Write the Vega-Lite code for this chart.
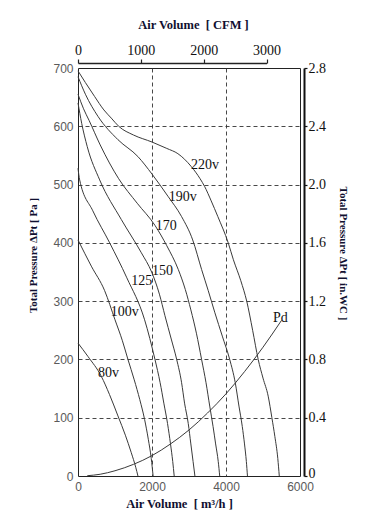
{
  "$schema": "https://vega.github.io/schema/vega-lite/v6.json",
  "width": 222,
  "height": 408,
  "autosize": {"type": "none"},
  "padding": {"left": 78, "top": 68, "right": 77, "bottom": 46},
  "background": "white",
  "config": {
    "view": {"stroke": "#222222", "strokeWidth": 1},
    "axis": {"gridDash": [4, 3], "gridColor": "#333333", "gridWidth": 0.9}
  },
  "datasets": {
    "curves": [
      {"c":"80v","q":0,"p":228},{"c":"80v","q":270,"p":205},{"c":"80v","q":630,"p":171},{"c":"80v","q":850,"p":140},{"c":"80v","q":1080,"p":103},{"c":"80v","q":1280,"p":70},{"c":"80v","q":1440,"p":40},{"c":"80v","q":1560,"p":15},{"c":"80v","q":1620,"p":0},
      {"c":"100v","q":0,"p":405},{"c":"100v","q":360,"p":360},{"c":"100v","q":720,"p":318},{"c":"100v","q":1000,"p":268},{"c":"100v","q":1200,"p":232},{"c":"100v","q":1350,"p":200},{"c":"100v","q":1520,"p":165},{"c":"100v","q":1670,"p":131},{"c":"100v","q":1800,"p":97},{"c":"100v","q":1900,"p":63},{"c":"100v","q":1980,"p":30},{"c":"100v","q":2030,"p":0},
      {"c":"125","q":0,"p":528},{"c":"125","q":45,"p":508},{"c":"125","q":400,"p":455},{"c":"125","q":856,"p":400},{"c":"125","q":1320,"p":340},{"c":"125","q":1800,"p":268},{"c":"125","q":2080,"p":200},{"c":"125","q":2220,"p":160},{"c":"125","q":2320,"p":125},{"c":"125","q":2420,"p":90},{"c":"125","q":2500,"p":55},{"c":"125","q":2560,"p":25},{"c":"125","q":2600,"p":0},
      {"c":"150","q":0,"p":640},{"c":"150","q":100,"p":605},{"c":"150","q":250,"p":565},{"c":"150","q":586,"p":508},{"c":"150","q":1171,"p":440},{"c":"150","q":1712,"p":383},{"c":"150","q":1990,"p":350},{"c":"150","q":2200,"p":312},{"c":"150","q":2350,"p":275},{"c":"150","q":2520,"p":235},{"c":"150","q":2667,"p":200},{"c":"150","q":2800,"p":160},{"c":"150","q":2880,"p":125},{"c":"150","q":2980,"p":90},{"c":"150","q":3050,"p":55},{"c":"150","q":3110,"p":25},{"c":"150","q":3160,"p":0},
      {"c":"170","q":0,"p":655},{"c":"170","q":150,"p":630},{"c":"170","q":300,"p":610},{"c":"170","q":600,"p":568},{"c":"170","q":1100,"p":510},{"c":"170","q":1600,"p":468},{"c":"170","q":2080,"p":430},{"c":"170","q":2400,"p":395},{"c":"170","q":2712,"p":354},{"c":"170","q":2900,"p":320},{"c":"170","q":3050,"p":285},{"c":"170","q":3200,"p":245},{"c":"170","q":3340,"p":200},{"c":"170","q":3460,"p":160},{"c":"170","q":3560,"p":120},{"c":"170","q":3650,"p":85},{"c":"170","q":3720,"p":55},{"c":"170","q":3790,"p":25},{"c":"170","q":3830,"p":0},
      {"c":"190v","q":0,"p":685},{"c":"190v","q":200,"p":655},{"c":"190v","q":540,"p":617},{"c":"190v","q":1080,"p":577},{"c":"190v","q":1620,"p":548},{"c":"190v","q":2000,"p":518},{"c":"190v","q":2430,"p":480},{"c":"190v","q":2800,"p":445},{"c":"190v","q":3100,"p":405},{"c":"190v","q":3342,"p":354},{"c":"190v","q":3520,"p":318},{"c":"190v","q":3700,"p":280},{"c":"190v","q":3900,"p":240},{"c":"190v","q":4100,"p":200},{"c":"190v","q":4250,"p":160},{"c":"190v","q":4350,"p":120},{"c":"190v","q":4440,"p":85},{"c":"190v","q":4500,"p":55},{"c":"190v","q":4550,"p":25},{"c":"190v","q":4580,"p":0},
      {"c":"220v","q":0,"p":695},{"c":"220v","q":200,"p":675},{"c":"220v","q":450,"p":651},{"c":"220v","q":700,"p":628},{"c":"220v","q":900,"p":614},{"c":"220v","q":1100,"p":600},{"c":"220v","q":1500,"p":585},{"c":"220v","q":2000,"p":573},{"c":"220v","q":2400,"p":562},{"c":"220v","q":2700,"p":553},{"c":"220v","q":3060,"p":531},{"c":"220v","q":3300,"p":510},{"c":"220v","q":3420,"p":497},{"c":"220v","q":3600,"p":472},{"c":"220v","q":3780,"p":445},{"c":"220v","q":4060,"p":400},{"c":"220v","q":4200,"p":371},{"c":"220v","q":4400,"p":335},{"c":"220v","q":4560,"p":300},{"c":"220v","q":4720,"p":250},{"c":"220v","q":4870,"p":200},{"c":"220v","q":5000,"p":168},{"c":"220v","q":5140,"p":137},{"c":"220v","q":5240,"p":100},{"c":"220v","q":5320,"p":68},{"c":"220v","q":5400,"p":30},{"c":"220v","q":5440,"p":0},
      {"c":"Pd","q":250,"p":0.5},{"c":"Pd","q":600,"p":3},{"c":"Pd","q":1000,"p":9},{"c":"Pd","q":1500,"p":20},{"c":"Pd","q":2000,"p":35},{"c":"Pd","q":2500,"p":55},{"c":"Pd","q":3000,"p":79},{"c":"Pd","q":3500,"p":108},{"c":"Pd","q":4000,"p":141},{"c":"Pd","q":4500,"p":179},{"c":"Pd","q":5000,"p":221},{"c":"Pd","q":5500,"p":267}
    ],
    "labels": [
      {"t":"220v","q":3054,"p":534},{"t":"190v","q":2451,"p":478},{"t":"170","q":2100,"p":429},{"t":"150","q":2000,"p":352},{"t":"125","q":1441,"p":334},{"t":"100v","q":883,"p":281},{"t":"80v","q":541,"p":177},{"t":"Pd","q":5270,"p":271}
    ],
    "cfm": [{"cfm": 0}, {"cfm": 3000}],
    "inwc": [{"inwc": 0}, {"inwc": 2.8}]
  },
  "layer": [
    {
      "layer": [
        {
          "data": {"name": "curves"},
          "mark": {"type": "line", "color": "#3a3a3a", "strokeWidth": 1, "interpolate": "monotone"},
          "encoding": {
            "x": {"field": "q", "type": "quantitative",
              "scale": {"domain": [0, 6000], "nice": false, "zero": false},
              "axis": {"orient": "bottom", "values": [0, 2000, 4000, 6000], "format": "d", "domain": false, "ticks": false,
                "labelFont": "Liberation Sans", "labelFontSize": 12, "labelColor": "#5a5a5a", "labelPadding": 5,
                "labelFlush": false,
                "grid": true, "gridOpacity": {"condition": {"test": "datum.value == 0 || datum.value == 6000", "value": 0}, "value": 1},
                "title": "Air Volume\u00a0 [ m³/h ]", "titleFont": "Liberation Serif", "titleFontSize": 12.5, "titleFontWeight": "bold",
                "titleColor": "#101030", "titlePadding": 5, "titleX": 101}},
            "y": {"field": "p", "type": "quantitative",
              "scale": {"domain": [0, 700], "nice": false, "zero": false},
              "axis": {"orient": "left", "values": [0, 100, 200, 300, 400, 500, 600, 700], "format": "d", "domain": false, "ticks": false,
                "labelFont": "Liberation Sans", "labelFontSize": 12, "labelColor": "#5a5a5a", "labelPadding": 5,
                "labelFlush": false,
                "grid": true, "gridOpacity": {"condition": {"test": "datum.value == 0 || datum.value == 700", "value": 0}, "value": 1},
                "title": "Total Pressure ΔPt [ Pa ]", "titleFont": "Liberation Serif", "titleFontSize": 11, "titleFontWeight": "bold",
                "titleColor": "#101030", "titlePadding": 14, "titleY": 187}},
            "detail": {"field": "c"}
          }
        },
        {
          "data": {"name": "labels"},
          "mark": {"type": "text", "align": "left", "baseline": "middle", "font": "Liberation Serif", "fontSize": 14, "color": "#111111"},
          "encoding": {
            "x": {"field": "q", "type": "quantitative"},
            "y": {"field": "p", "type": "quantitative"},
            "text": {"field": "t"}
          }
        }
      ]
    },
    {
      "data": {"name": "cfm"},
      "mark": {"type": "point", "opacity": 0},
      "encoding": {
        "x": {"field": "cfm", "type": "quantitative",
          "scale": {"domain": [0, 3000], "range": [0, 188.6], "nice": false, "zero": false},
          "axis": {"orient": "top", "offset": 5, "values": [0, 1000, 2000, 3000], "format": "d", "domain": true, "domainColor": "#222222", "domainWidth": 1.5,
            "ticks": true, "tickSize": 4, "tickColor": "#222222", "tickWidth": 1.2, "grid": false,
            "labelFont": "Liberation Serif", "labelFontSize": 14, "labelColor": "#111111", "labelPadding": 2, "labelFlush": false,
            "title": "Air Volume\u00a0 [ CFM ]", "titleFont": "Liberation Serif", "titleFontSize": 12.5, "titleFontWeight": "bold",
            "titleColor": "#101030", "titlePadding": 12, "titleX": 115}}
      }
    },
    {
      "data": {"name": "inwc"},
      "mark": {"type": "point", "opacity": 0},
      "encoding": {
        "y": {"field": "inwc", "type": "quantitative",
          "scale": {"domain": [0, 2.8], "nice": false, "zero": false},
          "axis": {"orient": "right", "offset": 4, "values": [0, 0.4, 0.8, 1.2, 1.6, 2.0, 2.4, 2.8],
            "labelExpr": "datum.value == 0 ? '0' : format(datum.value, '.1f')",
            "labelOffset": {"condition": {"test": "datum.value == 0", "value": -3}, "value": 0},
            "domain": true, "domainColor": "#111111", "domainWidth": 2,
            "ticks": true, "tickSize": 3, "tickColor": "#111111", "tickWidth": 1.2, "grid": false,
            "labelFont": "Liberation Serif", "labelFontSize": 14, "labelColor": "#111111", "labelPadding": 1, "labelFlush": false,
            "title": "Total Pressure ΔPt [ in.WC ]", "titleFont": "Liberation Serif", "titleFontSize": 11, "titleFontWeight": "bold",
            "titleColor": "#101030", "titlePadding": 12, "titleY": 185}}
      }
    }
  ],
  "resolve": {"scale": {"x": "independent", "y": "independent"}}
}
